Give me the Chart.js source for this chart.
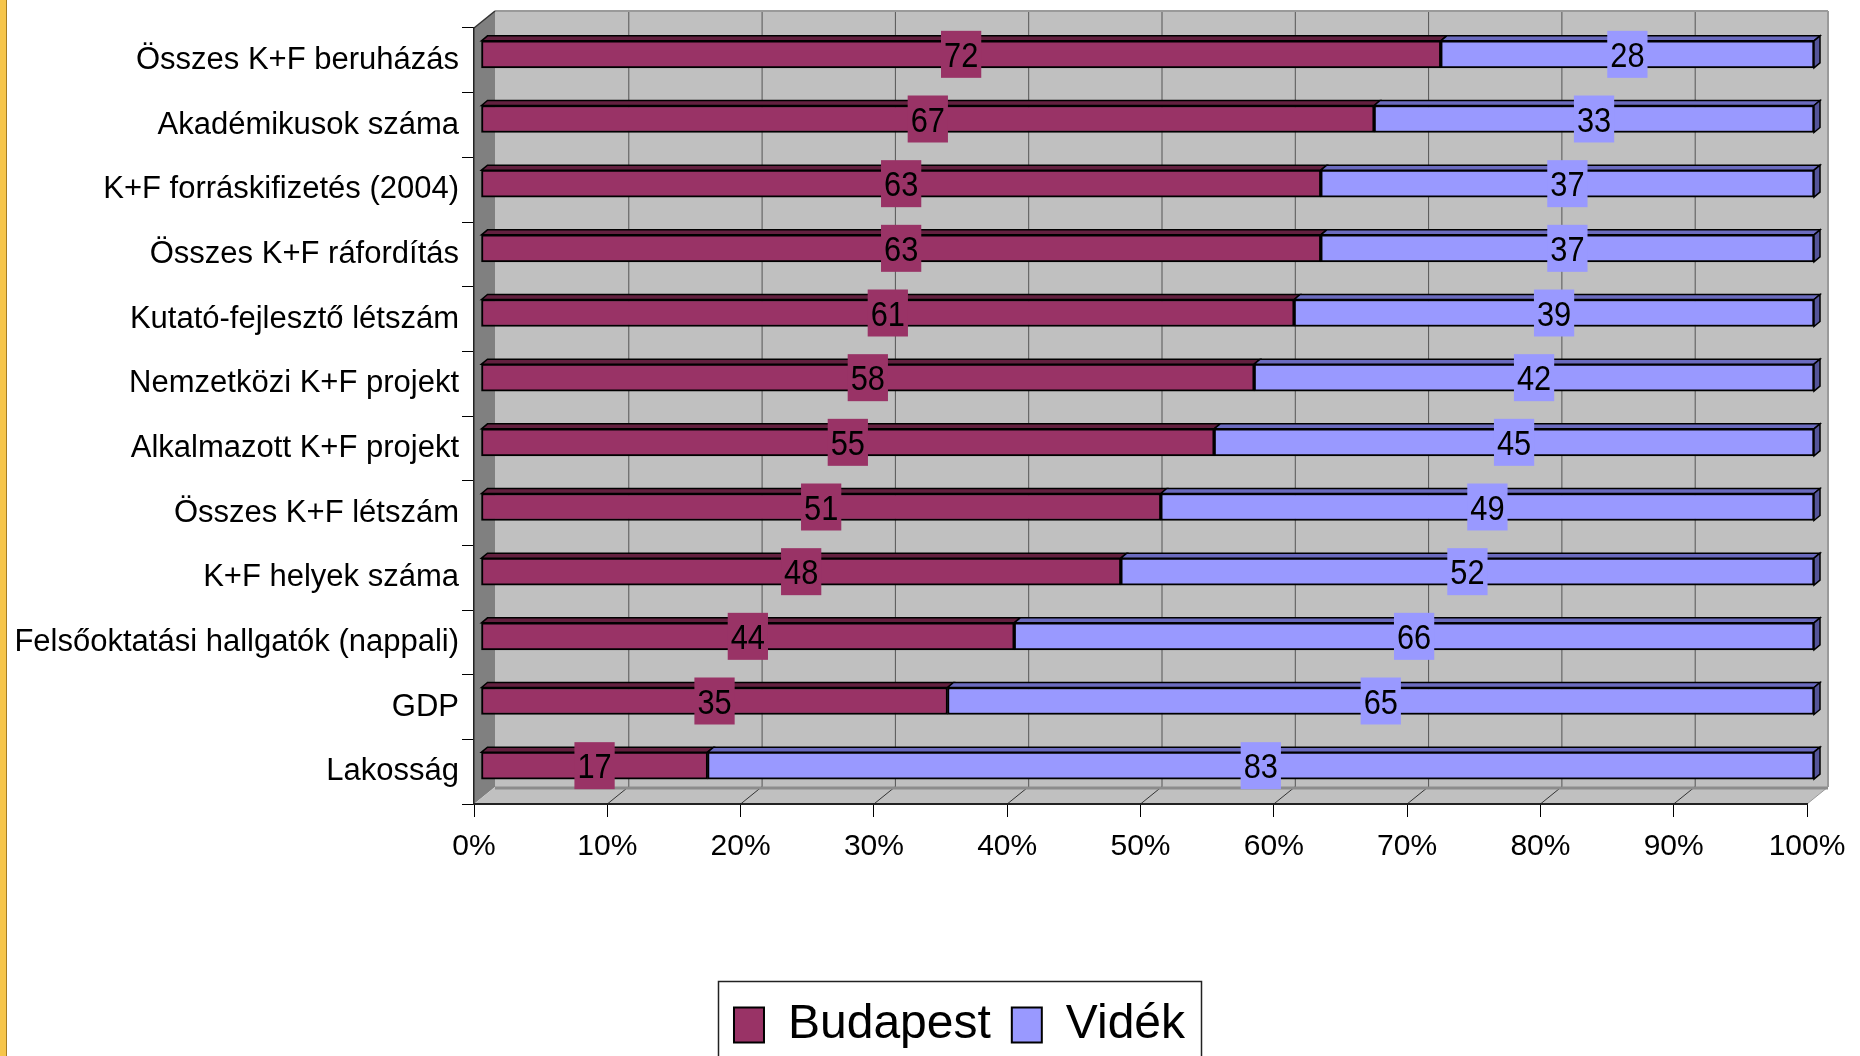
<!DOCTYPE html>
<html>
<head>
<meta charset="utf-8">
<script src="https://cdn.jsdelivr.net/npm/chart.js@4.4.1/dist/chart.umd.min.js"></script>
<style>
    html, body { margin: 0; padding: 0; background: #fff; }
    #wrap { position: relative; width: 1860px; height: 1056px; overflow: hidden; }
    #stripe { position: absolute; left: 0; top: 0; width: 6px; height: 1056px; background: #f6c54a; border-right: 1px solid #a57c22; }
    canvas { position: absolute; left: 0; top: 0; }
</style>
</head>
<body>
<div id="wrap">
    <canvas id="chart" width="1860" height="1056"></canvas>
    <div id="stripe"></div>
</div>
<script>
const FONT = "'Liberation Sans', Arial, sans-serif";

const categories = [
    'Összes K+F beruházás',
    'Akadémikusok száma',
    'K+F forráskifizetés (2004)',
    'Összes K+F ráfordítás',
    'Kutató-fejlesztő létszám',
    'Nemzetközi K+F projekt',
    'Alkalmazott K+F projekt',
    'Összes K+F létszám',
    'K+F helyek száma',
    'Felsőoktatási hallgatók (nappali)',
    'GDP',
    'Lakosság'
];
const budapest = [72, 67, 63, 63, 61, 58, 55, 51, 48, 44, 35, 17];
const videk = [28, 33, 37, 37, 39, 42, 45, 49, 52, 66, 65, 83];
const seriesNames = ['Budapest', 'Vidék'];
const tickValues = [0, 10, 20, 30, 40, 50, 60, 70, 80, 90, 100];

// 100% stacked: bars show share of the row total, labels show the raw numbers
const rawValues = [budapest, videk];
const shares = rawValues.map(arr => arr.map((v, i) => v / (budapest[i] + videk[i]) * 100));

const frontColors = ['#993366', '#9999ff'];
const topColors = ['#63203f', '#6b6bbf'];
const endColors = ['#4d1830', '#55559a'];

// wall depth and bar offset (3D look)
const WALL = { dx: 21, dy: 17 };
const BAR = { dx: 7, dy: -6, depthX: 6, depthY: 5 };
const LEGEND_SHIFT = 52;

function poly(ctx, pts, fill, stroke, lw) {
    ctx.beginPath();
    ctx.moveTo(pts[0][0], pts[0][1]);
    for (let i = 1; i < pts.length; i++) ctx.lineTo(pts[i][0], pts[i][1]);
    ctx.closePath();
    if (fill) { ctx.fillStyle = fill; ctx.fill(); }
    if (stroke) { ctx.strokeStyle = stroke; ctx.lineWidth = lw || 1; ctx.stroke(); }
}

function line(ctx, x1, y1, x2, y2, color, lw) {
    ctx.beginPath();
    ctx.moveTo(x1, y1);
    ctx.lineTo(x2, y2);
    ctx.strokeStyle = color;
    ctx.lineWidth = lw || 1;
    ctx.stroke();
}

const wallsPlugin = {
    id: 'walls',
    afterLayout(chart) {
        // legend sits a little right of the canvas centre
        chart.legend.left += LEGEND_SHIFT;
        chart.legend.right += LEGEND_SHIFT;
    },
    beforeDraw(chart) {
        const ctx = chart.ctx;
        const a = chart.chartArea;
        const xs = chart.scales.x;
        const { dx, dy } = WALL;
        ctx.save();
        // back wall
        ctx.fillStyle = '#c0c0c0';
        ctx.fillRect(a.left + dx, a.top - dy, a.right - a.left, a.bottom - a.top);
        // side wall
        poly(ctx, [[a.left, a.top], [a.left + dx, a.top - dy], [a.left + dx, a.bottom - dy], [a.left, a.bottom]], '#808080');
        // floor
        poly(ctx, [[a.left, a.bottom], [a.left + dx, a.bottom - dy], [a.right + dx, a.bottom - dy], [a.right, a.bottom]], '#c0c0c0');
        // grid on back wall + floor
        xs.ticks.forEach(t => {
            const px = xs.getPixelForValue(t.value);
            if (t.value > 0 && t.value < 100) {
                line(ctx, px + dx + 0.5, a.top - dy, px + dx + 0.5, a.bottom - dy, '#555', 1);
            }
            if (t.value > 0) {
                line(ctx, px, a.bottom, px + dx, a.bottom - dy, t.value < 100 ? '#333' : '#999', 1);
            }
        });
        line(ctx, a.left + dx, a.bottom - dy + 1, a.right + dx, a.bottom - dy + 1, '#8c8c8c', 3);
        line(ctx, a.left + dx, a.top - dy, a.right + dx, a.top - dy, '#9a9a9a', 2);
        line(ctx, a.right + dx, a.top - dy, a.right + dx, a.bottom - dy, '#9a9a9a', 2);
        line(ctx, a.left, a.top, a.left + dx, a.top - dy, '#333', 1.5);
        ctx.restore();
    },
    beforeDatasetsDraw(chart) {
        chart.ctx.save();
        chart.ctx.translate(BAR.dx, BAR.dy);
    },
    afterDatasetsDraw(chart) {
        const ctx = chart.ctx;
        const last = chart.data.datasets.length - 1;
        const boxes = [];
        chart.data.datasets.forEach((ds, di) => {
            const meta = chart.getDatasetMeta(di);
            meta.data.forEach((el, i) => {
                const p = el.getProps(['x', 'y', 'base', 'height'], true);
                const left = Math.min(p.x, p.base);
                const right = Math.max(p.x, p.base);
                const top = p.y - p.height / 2;
                const bottom = p.y + p.height / 2;
                const { depthX, depthY } = BAR;
                poly(ctx, [[left, top], [left + depthX, top - depthY], [right + depthX, top - depthY], [right, top]], topColors[di], '#000', 1.5);
                if (di === last) {
                    poly(ctx, [[right, top], [right + depthX, top - depthY], [right + depthX, bottom - depthY], [right, bottom]], endColors[di], '#000', 1.5);
                }
                boxes.push({ cx: (left + right) / 2, cy: p.y, text: String(rawValues[di][i]), color: frontColors[di] });
            });
        });
        // data labels
        ctx.font = '35px ' + FONT;
        const sx = 0.88;
        boxes.forEach(b => {
            const w = ctx.measureText(b.text).width * sx + 6;
            const h = 47;
            ctx.fillStyle = b.color;
            ctx.fillRect(b.cx - w / 2, b.cy - h / 2, w, h);
            ctx.save();
            ctx.translate(b.cx, b.cy + 12.5);
            ctx.scale(sx, 1);
            ctx.fillStyle = '#000';
            ctx.textAlign = 'center';
            ctx.textBaseline = 'alphabetic';
            ctx.fillText(b.text, 0, 0);
            ctx.restore();
        });
        ctx.restore();
    },
    afterDraw(chart) {
        // frame round the legend items
        const lg = chart.legend;
        const pad = lg.options.labels.padding;
        const lw = lg.lineWidths[0];
        const start = (lg.left + pad + lg.right - lw) / 2;
        const end = start + lw - pad;
        const ctx = chart.ctx;
        ctx.save();
        ctx.strokeStyle = '#222';
        ctx.lineWidth = 1.5;
        ctx.strokeRect(Math.round(start - 16) + 0.5, lg.top + 1.5, Math.round(end - start + 32), 120);
        ctx.restore();
    }
};

const ctx = document.getElementById('chart').getContext('2d');
Chart.defaults.font.family = FONT;

new Chart(ctx, {
    type: 'bar',
    data: {
        labels: categories,
        datasets: seriesNames.map((name, di) => ({
            label: name,
            data: shares[di],
            backgroundColor: frontColors[di],
            borderColor: '#000',
            borderWidth: 2,
            borderSkipped: false,
            barThickness: 27,
            clip: false
        }))
    },
    options: {
        responsive: false,
        animation: false,
        indexAxis: 'y',
        layout: { padding: { left: 8, right: 53, top: 28, bottom: -3 } },
        plugins: {
            legend: {
                position: 'bottom',
                labels: {
                    boxWidth: 30,
                    boxHeight: 35,
                    padding: 21,
                    color: '#000',
                    font: { size: 48 }
                }
            },
            tooltip: { enabled: false }
        },
        scales: {
            x: {
                stacked: true,
                min: 0,
                max: 100,
                afterBuildTicks: s => { s.ticks = tickValues.map(v => ({ value: v })); },
                ticks: {
                    callback: v => v + '%',
                    color: '#000',
                    font: { size: 30 },
                    padding: 12,
                    maxRotation: 0,
                    autoSkip: false
                },
                grid: { drawOnChartArea: false, drawTicks: true, tickLength: 13, color: '#000' },
                border: { color: '#222', width: 2 },
                afterFit: s => { s.height = 176; }
            },
            y: {
                stacked: true,
                ticks: { color: '#000', font: { size: 31 }, padding: 3, autoSkip: false },
                grid: { offset: true, drawOnChartArea: false, drawTicks: true, tickLength: 12, color: '#000' },
                border: { color: '#222', width: 1.5 },
                afterFit: s => { s.width = 466; }
            }
        }
    },
    plugins: [wallsPlugin]
});
</script>
</body>
</html>
